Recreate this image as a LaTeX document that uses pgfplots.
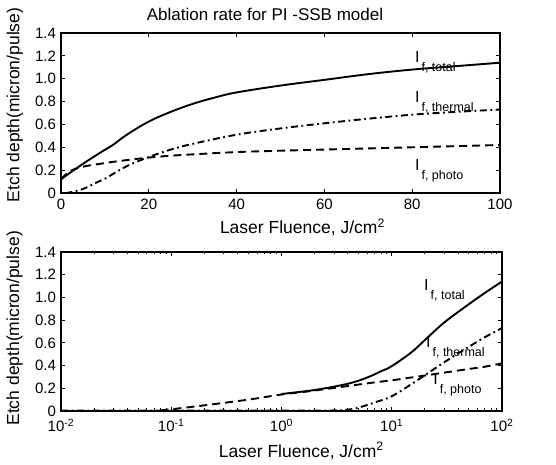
\documentclass[border=0pt]{standalone}
\usepackage{pgfplots}
\pgfplotsset{compat=1.18}
\usepackage{fontspec}
\setmainfont{Liberation Sans}
\newcommand\lbl[1]{{\fontsize{16}{16}\selectfont I}\raisebox{-9pt}{\fontsize{12.5}{12.5}\selectfont\,f, #1}}
\pgfplotsset{
  common/.style={
    scale only axis,
    anchor=south west,
    tick align=inside,
    tick pos=both,
    major tick length=4pt,
    minor tick length=2.5pt,
    axis line style={line width=1.8pt},
    every tick/.style={line width=1pt,black},
    ticklabel style={font=\fontsize{15}{15}\selectfont},
    yticklabel style={xshift=-1.5pt},
    label style={font=\fontsize{17.5}{17.5}\selectfont},
    ymin=0, ymax=1.4,
    ytick={0,0.2,0.4,0.6,0.8,1.0,1.2,1.4},
    yticklabels={0,0.2,0.4,0.6,0.8,1.0,1.2,1.4},
    ylabel={Etch depth(micron/pulse)},
    xlabel={Laser Fluence, J/cm\textsuperscript{2}},
    clip=false,
  },
  tot/.style={black, line width=1.9pt, smooth, tension=0.6},
  pho/.style={black, line width=1.9pt, smooth, tension=0.6, dash pattern=on 8pt off 5pt},
  the/.style={black, line width=1.9pt, smooth, tension=0.6, dash pattern=on 7pt off 3.5pt on 1.8pt off 3.5pt},
}
\begin{document}
\begin{tikzpicture}
\useasboundingbox (0,0) rectangle (556pt,465pt);
\node[font=\fontsize{17}{17}\selectfont] at (265pt,451pt) {Ablation rate for PI -SSB model};
% ---------------- top panel ----------------
\begin{axis}[common,
  at={(61pt,272pt)}, width=439pt, height=160pt,
  xmin=0, xmax=100,
  xtick={0,20,40,60,80,100},
  xticklabels={0,20,40,60,80,100},
  xticklabel style={yshift=-2pt},
  xlabel style={anchor=center, at={(axis description cs:0.55,-0.215)}},
  ylabel style={anchor=center, at={(axis description cs:-0.105,0.55)}},
]
\addplot[pho] coordinates {
(0,0.12) (2,0.19) (5,0.23) (8,0.25) (10,0.262) (12,0.273) (15,0.288) (20,0.31) (25,0.326) (30,0.338) (40,0.358) (50,0.37) (60,0.38) (70,0.39) (80,0.40) (90,0.41) (100,0.42)};
\addplot[the] coordinates {
(1,0) (2,0.005) (5,0.035) (8,0.09) (10,0.125) (12,0.17) (15,0.235) (20,0.315) (25,0.38) (30,0.43) (40,0.51) (50,0.565) (60,0.61) (70,0.65) (80,0.685) (90,0.71) (100,0.73)};
\addplot[tot] coordinates {
(0,0.12) (2,0.175) (5,0.255) (8,0.33) (10,0.378) (12,0.425) (15,0.51) (20,0.625) (25,0.71) (30,0.78) (35,0.835) (40,0.88) (50,0.94) (60,0.99) (70,1.04) (80,1.08) (90,1.11) (100,1.14)};
\node[anchor=base west, inner sep=0] at (axis cs:80.6,1.146) {\lbl{total}};
\node[anchor=base west, inner sep=0] at (axis cs:80.6,0.796) {\lbl{thermal}};
\node[anchor=base west, inner sep=0] at (axis cs:80.6,0.20) {\lbl{photo}};
\end{axis}
% ---------------- bottom panel ----------------
\begin{axis}[common,
  at={(61pt,54pt)}, width=441pt, height=159pt,
  xmode=log, xmin=0.01, xmax=100,
  xtick={0.01,0.1,1,10,100},
  xticklabels={10\textsuperscript{-2},10\textsuperscript{-1},10\textsuperscript{0},10\textsuperscript{1},10\textsuperscript{2}},
  xticklabel style={yshift=-4.5pt},
  xlabel style={anchor=center, at={(axis description cs:0.545,-0.25)}},
  ylabel style={anchor=center, at={(axis description cs:-0.105,0.52)}},
]
\addplot[pho] coordinates {
(0.08,0.005) (0.1,0.015) (0.2,0.05) (0.5,0.10) (1,0.145) (2,0.18) (4,0.22) (7,0.252) (10,0.27) (15,0.295) (20,0.312) (30,0.338) (50,0.37) (70,0.39) (100,0.42)};
\addplot[the] coordinates {
(0.01,0.003) (0.1,0.003) (1,0.003) (3,0.005) (4,0.012) (5,0.03) (7,0.075) (10,0.13) (15,0.235) (20,0.315) (30,0.43) (50,0.565) (70,0.65) (100,0.73)};
\addplot[tot] coordinates {
(1,0.15) (2,0.185) (4,0.24) (6,0.295) (8,0.35) (10,0.395) (15,0.515) (20,0.625) (30,0.78) (50,0.94) (70,1.04) (100,1.14)};
\node[anchor=base west, inner sep=0] at (axis cs:19.6,1.065) {\lbl{total}};
\node[anchor=base west, inner sep=0] at (axis cs:20.4,0.555) {\lbl{thermal}};
\node[anchor=base west, inner sep=0] at (axis cs:23.7,0.229) {\lbl{photo}};
\end{axis}
\end{tikzpicture}
\end{document}
